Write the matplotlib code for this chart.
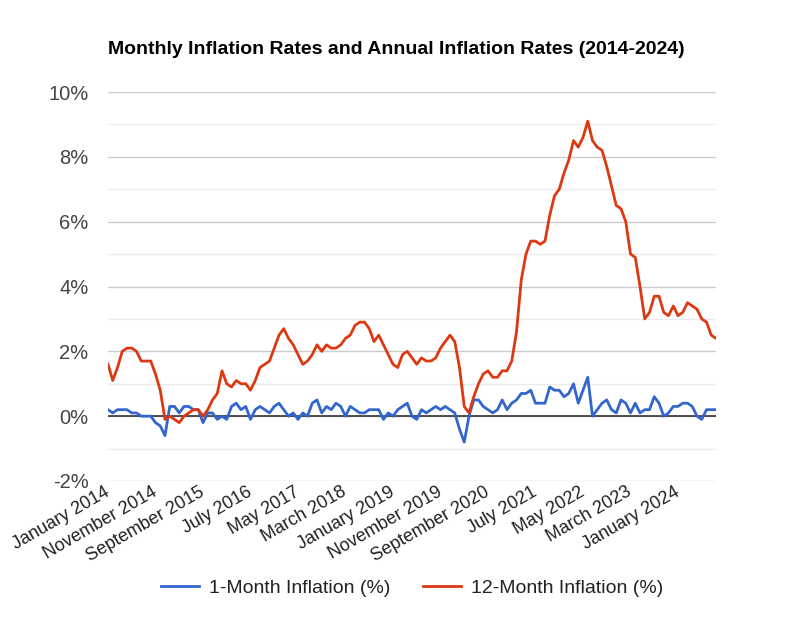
import numpy as np
import pandas as pd
from matplotlib import pyplot as plt

plt.rcParams['font.family'] = ['Liberation Sans', 'DejaVu Sans']

# 1-month change (%), Jan 2014 - Sep 2024
monthly = [0.2, 0.1, 0.2, 0.2, 0.2, 0.1, 0.1, 0.0, 0.0, 0.0, -0.2, -0.3,
           -0.6, 0.3, 0.3, 0.1, 0.3, 0.3, 0.2, 0.2, -0.2, 0.1, 0.1, -0.1,
           0.0, -0.1, 0.3, 0.4, 0.2, 0.3, -0.1, 0.2, 0.3, 0.2, 0.1, 0.3,
           0.4, 0.2, 0.0, 0.1, -0.1, 0.1, 0.0, 0.4, 0.5, 0.1, 0.3, 0.2,
           0.4, 0.3, 0.0, 0.3, 0.2, 0.1, 0.1, 0.2, 0.2, 0.2, -0.1, 0.1,
           0.0, 0.2, 0.3, 0.4, 0.0, -0.1, 0.2, 0.1, 0.2, 0.3, 0.2, 0.3,
           0.2, 0.1, -0.4, -0.8, 0.0, 0.5, 0.5, 0.3, 0.2, 0.1, 0.2, 0.5,
           0.2, 0.4, 0.5, 0.7, 0.7, 0.8, 0.4, 0.4, 0.4, 0.9, 0.8, 0.8,
           0.6, 0.7, 1.0, 0.4, 0.8, 1.2, 0.0, 0.2, 0.4, 0.5, 0.2, 0.1,
           0.5, 0.4, 0.1, 0.4, 0.1, 0.2, 0.2, 0.6, 0.4, 0.0, 0.1, 0.3,
           0.3, 0.4, 0.4, 0.3, 0.0, -0.1, 0.2, 0.2, 0.2]

# 12-month change (%)
annual = [1.6, 1.1, 1.5, 2.0, 2.1, 2.1, 2.0, 1.7, 1.7, 1.7, 1.3, 0.8,
          -0.1, 0.0, -0.1, -0.2, 0.0, 0.1, 0.2, 0.2, 0.0, 0.2, 0.5, 0.7,
          1.4, 1.0, 0.9, 1.1, 1.0, 1.0, 0.8, 1.1, 1.5, 1.6, 1.7, 2.1,
          2.5, 2.7, 2.4, 2.2, 1.9, 1.6, 1.7, 1.9, 2.2, 2.0, 2.2, 2.1,
          2.1, 2.2, 2.4, 2.5, 2.8, 2.9, 2.9, 2.7, 2.3, 2.5, 2.2, 1.9,
          1.6, 1.5, 1.9, 2.0, 1.8, 1.6, 1.8, 1.7, 1.7, 1.8, 2.1, 2.3,
          2.5, 2.3, 1.5, 0.3, 0.1, 0.6, 1.0, 1.3, 1.4, 1.2, 1.2, 1.4,
          1.4, 1.7, 2.6, 4.2, 5.0, 5.4, 5.4, 5.3, 5.4, 6.2, 6.8, 7.0,
          7.5, 7.9, 8.5, 8.3, 8.6, 9.1, 8.5, 8.3, 8.2, 7.7, 7.1, 6.5,
          6.4, 6.0, 5.0, 4.9, 4.0, 3.0, 3.2, 3.7, 3.7, 3.2, 3.1, 3.4,
          3.1, 3.2, 3.5, 3.4, 3.3, 3.0, 2.9, 2.5, 2.4]

dates = pd.date_range('2014-01-01', periods=len(annual), freq='MS')
labels = [d.strftime('%B %Y') for d in dates]
x = np.arange(len(annual))

W, H = 788, 638
fig = plt.figure(figsize=(W / 100, H / 100), dpi=100)
ax = fig.add_axes([108 / W, (H - 481) / H, (716 - 108) / W, (481 - 92) / H])

ax.set_ylim(-2, 10)
ax.set_xlim(0, len(annual) - 1)
ax.set_yticks(np.arange(-2, 11, 2))
ax.set_yticks(np.arange(-1, 10, 2), minor=True)
ax.set_yticklabels([f'{v}%' for v in range(-2, 11, 2)])
ax.grid(axis='y', which='major', color='#cccccc', lw=1)
ax.grid(axis='y', which='minor', color='#ebebeb', lw=1)
ax.axhline(0, color='#333333', lw=1.2, zorder=2)
for s in ax.spines.values():
    s.set_visible(False)

ax.plot(x, monthly, color='#3366cc', lw=2, label='1-Month Inflation (%)', zorder=3)
ax.plot(x, annual, color='#dc3912', lw=2, label='12-Month Inflation (%)', zorder=3)

ticks = x[::10]
ax.set_xticks(ticks)
ax.set_xticklabels([labels[i] for i in ticks], rotation=30, ha='right', va='center',
                   rotation_mode='anchor', fontsize=13, color='#222222')
ax.tick_params(axis='x', length=0, pad=7)
ax.tick_params(axis='y', which='both', length=0, pad=14, labelsize=14.5, labelcolor='#444444')

fig.text(108 / W, 1 - 50 / H, 'Monthly Inflation Rates and Annual Inflation Rates (2014-2024)',
         fontsize=14, fontweight='bold', ha='left', va='center')

fig.legend(loc='center', bbox_to_anchor=(412 / W, 1 - 588 / H), ncol=2, frameon=False,
           fontsize=14, handlelength=2.0, handletextpad=0.5, columnspacing=1.65,
           labelcolor='#222222')

fig.savefig('out.png', dpi=100)
